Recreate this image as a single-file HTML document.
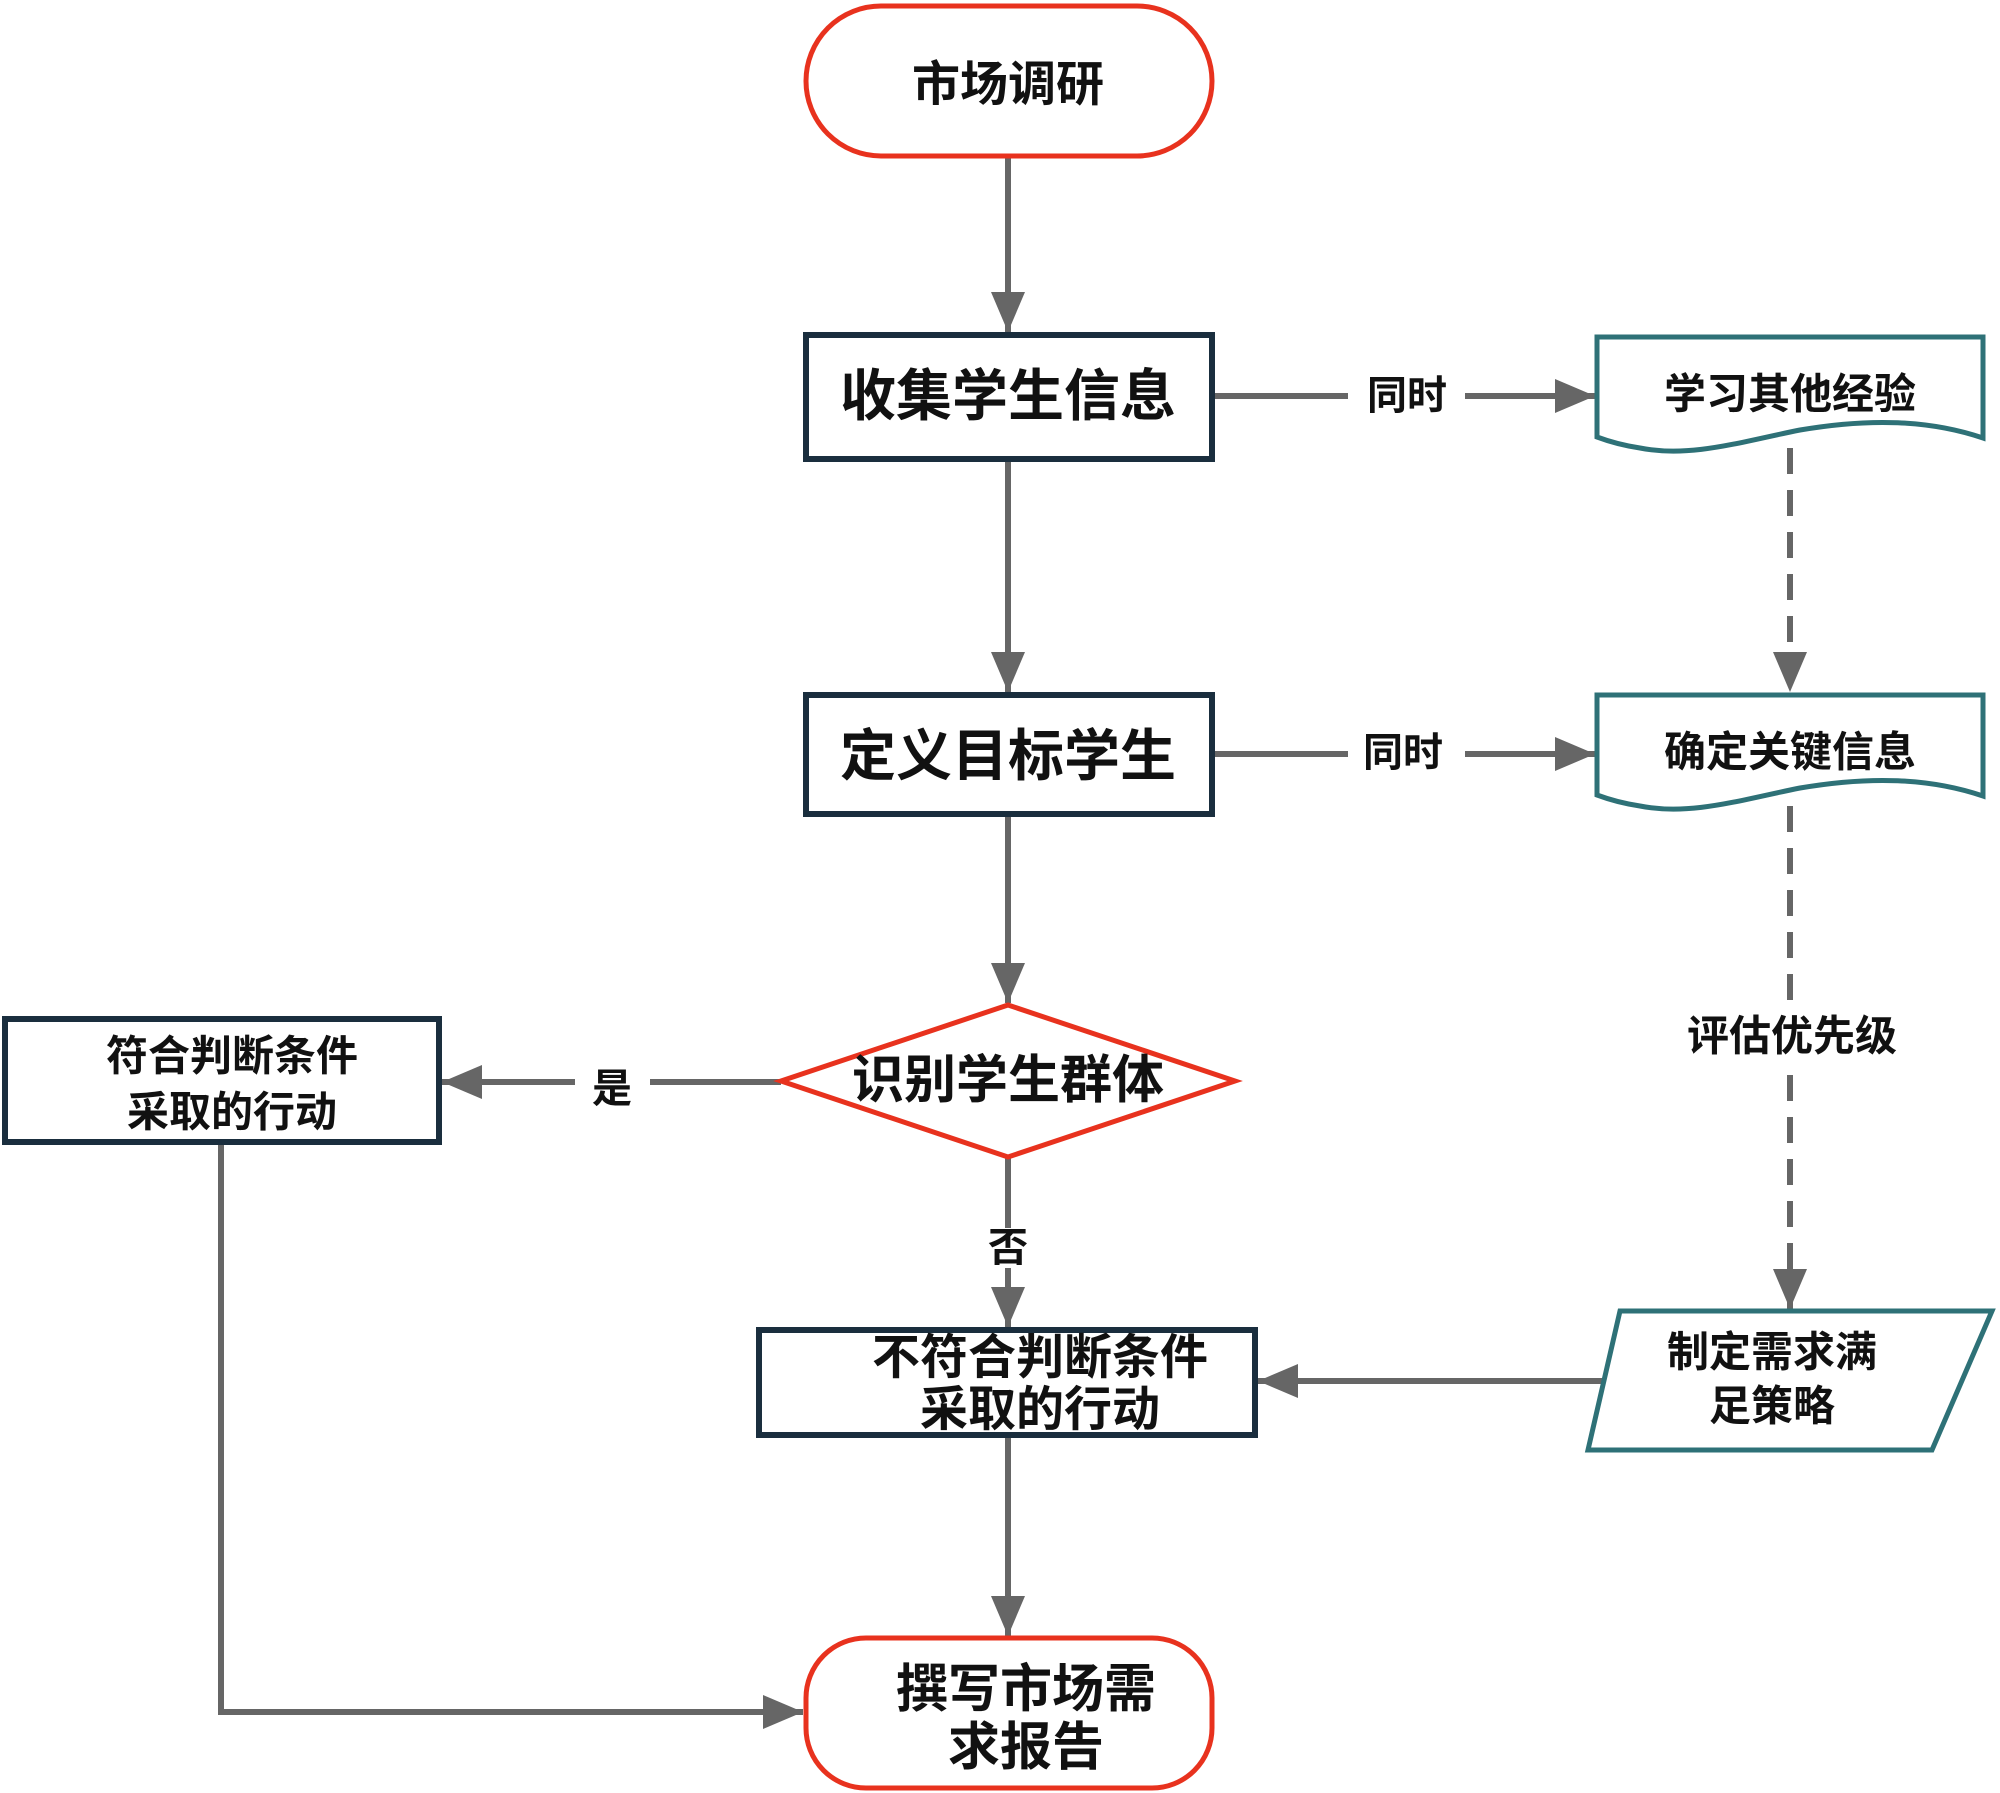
<!DOCTYPE html>
<html><head><meta charset="utf-8"><style>
html,body{margin:0;padding:0;background:#fff}
svg{display:block}
text{font-family:"Liberation Sans","Noto Sans CJK SC",sans-serif;font-weight:bold;fill:#111;text-anchor:middle;dominant-baseline:central}
</style></head><body>
<svg width="2000" height="1793" viewBox="0 0 2000 1793" xmlns="http://www.w3.org/2000/svg">
<defs>
<marker id="a" markerWidth="40" markerHeight="34" refX="40" refY="17" orient="auto" markerUnits="userSpaceOnUse" viewBox="0 0 40 34"><path d="M0,0 L40,17 L0,34 z" fill="#666"/></marker>
</defs>
<g stroke="#666" stroke-width="6" fill="none">
<line x1="1008" y1="156" x2="1008" y2="332" marker-end="url(#a)"/>
<line x1="1008" y1="459" x2="1008" y2="692" marker-end="url(#a)"/>
<line x1="1008" y1="814" x2="1008" y2="1003" marker-end="url(#a)"/>
<line x1="1008" y1="1157" x2="1008" y2="1228"/>
<line x1="1008" y1="1268" x2="1008" y2="1327" marker-end="url(#a)"/>
<line x1="1008" y1="1435" x2="1008" y2="1636" marker-end="url(#a)"/>
<line x1="1212" y1="396" x2="1348" y2="396"/>
<line x1="1465" y1="396" x2="1595" y2="396" marker-end="url(#a)"/>
<line x1="1212" y1="754" x2="1348" y2="754"/>
<line x1="1465" y1="754" x2="1595" y2="754" marker-end="url(#a)"/>
<line x1="781" y1="1082" x2="650" y2="1082"/>
<line x1="575" y1="1082" x2="442" y2="1082" marker-end="url(#a)"/>
<line x1="1608" y1="1381" x2="1258" y2="1381" marker-end="url(#a)"/>
<polyline points="221,1142 221,1712 803,1712" marker-end="url(#a)"/>
<g stroke-dasharray="26,16">
<line x1="1790" y1="448" x2="1790" y2="692" marker-end="url(#a)"/>
<line x1="1790" y1="806" x2="1790" y2="1000"/>
<line x1="1790" y1="1075" x2="1790" y2="1309" marker-end="url(#a)"/>
</g>
</g>
<rect x="806" y="6" width="406" height="150" rx="75" fill="#fff" stroke="#e8321e" stroke-width="5"/>
<rect x="806" y="1638" width="406" height="150" rx="60" fill="#fff" stroke="#e8321e" stroke-width="5"/>
<g fill="#fff" stroke="#1a2e3e" stroke-width="6">
<rect x="806" y="335" width="406" height="124"/>
<rect x="806" y="695" width="406" height="119"/>
<rect x="5" y="1019" width="434" height="123"/>
<rect x="759" y="1330" width="496" height="105"/>
</g>
<polygon points="1008,1005 1235,1081 1008,1157 781,1081" fill="#fff" stroke="#e8321e" stroke-width="5"/>
<g fill="#fff" stroke="#2e7177" stroke-width="5">
<path d="M1597,337 H1983 V438 C1930,420 1870,418 1800,430 C1740,442 1690,458 1640,448 C1620,445 1605,440 1597,437 Z"/>
<path d="M1597,695 H1983 V796 C1930,778 1870,776 1800,788 C1740,800 1690,816 1640,806 C1620,803 1605,798 1597,795 Z"/>
<polygon points="1620,1311 1992,1311 1932,1450 1588,1450"/>
</g>
<rect x="1765" y="1005" width="55" height="62" fill="#fff"/>
<text x="1008" y="85" font-size="48">市场调研</text>
<text x="1008" y="396" font-size="56">收集学生信息</text>
<text x="1008" y="756" font-size="56">定义目标学生</text>
<text x="1008" y="1081" font-size="52">识别学生群体</text>
<text x="1790" y="394" font-size="42">学习其他经验</text>
<text x="1790" y="752" font-size="42">确定关键信息</text>
<text x="1407" y="396" font-size="40">同时</text>
<text x="1403" y="753" font-size="40">同时</text>
<text x="1792" y="1036" font-size="42">评估优先级</text>
<text x="612" y="1089" font-size="40">是</text>
<text x="1008" y="1248" font-size="40">否</text>
<text x="232" y="1056" font-size="42">符合判断条件</text>
<text x="232" y="1112" font-size="42">采取的行动</text>
<text x="1040" y="1358" font-size="48">不符合判断条件</text>
<text x="1040" y="1410" font-size="48">采取的行动</text>
<text x="1772" y="1352" font-size="42">制定需求满</text>
<text x="1772" y="1406" font-size="42">足策略</text>
<text x="1026" y="1690" font-size="52">撰写市场需</text>
<text x="1026" y="1748" font-size="52">求报告</text>
</svg>
</body></html>
